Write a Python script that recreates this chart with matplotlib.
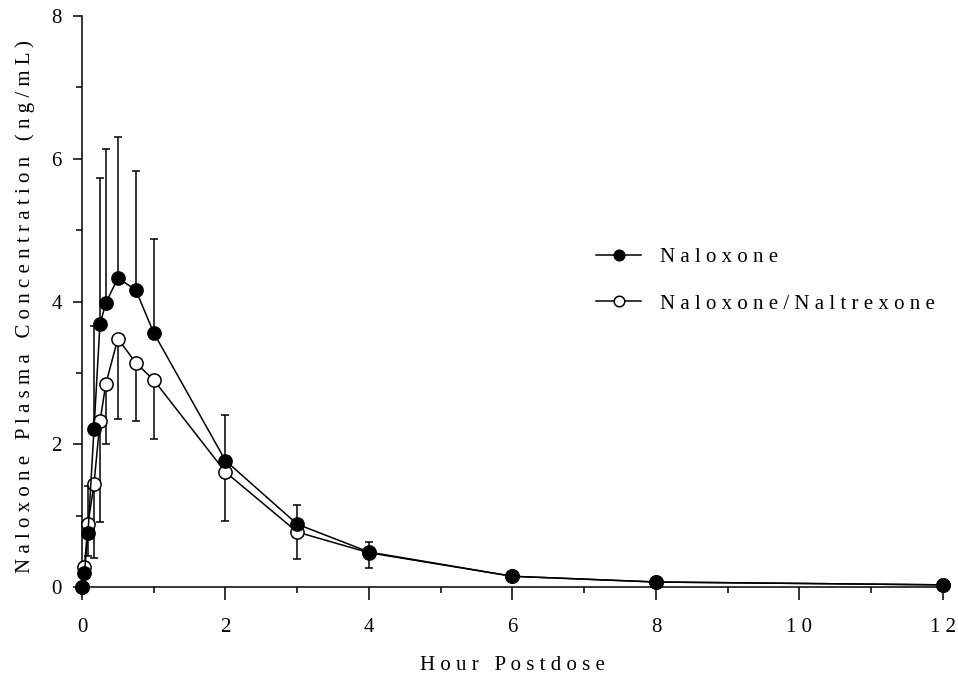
import numpy as np
import matplotlib
matplotlib.use("Agg")
import matplotlib.pyplot as plt
from matplotlib.ticker import MultipleLocator, FuncFormatter

plt.rcParams["font.family"] = ["Liberation Serif", "DejaVu Serif"]

# ── Data ───────────────────────────────────────────────────────
hours = [0, 0.033, 0.083, 0.167, 0.25, 0.333, 0.5, 0.75, 1, 2, 3, 4, 6, 8, 12]

naloxone_mean = [0, 0.19, 0.75, 2.21, 3.68, 3.98, 4.33, 4.16, 3.56, 1.77, 0.88, 0.49, 0.15, 0.07, 0.03]
naloxone_sd_up = [0, 0.10, 0.67, 1.44, 2.05, 2.15, 1.98, 1.67, 1.32, 0.64, 0.27, 0.14, 0, 0, 0]

combo_mean = [0, 0.28, 0.88, 1.44, 2.32, 2.85, 3.48, 3.14, 2.90, 1.61, 0.77, 0.48, 0.15, 0.07, 0.03]
combo_sd_down = [0, 0.10, 0.45, 1.04, 1.41, 0.85, 1.13, 0.82, 0.83, 0.68, 0.38, 0.22, 0, 0, 0]

x_ticks = [0, 2, 4, 6, 8, 10, 12]
y_ticks = [0, 2, 4, 6, 8]


def spaced(s):
    # the original uses wide letter spacing
    return " ".join(s)


t = np.array(hours)
m1 = np.array(naloxone_mean)
e1 = np.array(naloxone_sd_up)
m2 = np.array(combo_mean)
e2 = np.array(combo_sd_down)

fs = 15
lw = 1.1

fig = plt.figure(figsize=(9.58, 6.82), dpi=100)
ax = fig.add_axes([0.0856, 0.1393, 0.8987, 0.8372])

# error bars: upper for Naloxone, lower for Naloxone/Naltrexone
k1 = e1 > 0
ax.vlines(t[k1], m1[k1], m1[k1] + e1[k1], color="black", lw=lw, zorder=2)
ax.plot(t[k1], m1[k1] + e1[k1], ls="none", marker="_", ms=5.5, mew=lw, color="black", zorder=2)
k2 = e2 > 0
ax.vlines(t[k2], m2[k2] - e2[k2], m2[k2], color="black", lw=lw, zorder=2)
ax.plot(t[k2], m2[k2] - e2[k2], ls="none", marker="_", ms=5.5, mew=lw, color="black", zorder=2)

ax.plot(t, m2, color="black", lw=lw, marker="o", ms=9.5, mfc="white", mec="black",
        mew=lw, clip_on=False, zorder=4, label=spaced("Naloxone/Naltrexone"))
ax.plot(t, m1, color="black", lw=lw, marker="o", ms=9.5, mfc="black", mec="black",
        mew=lw, clip_on=False, zorder=5, label=spaced("Naloxone"))

ax.set_xlim(0, 12)
ax.set_ylim(0, 8)
ax.set_xticks(x_ticks)
ax.set_yticks(y_ticks)
ax.xaxis.set_minor_locator(MultipleLocator(1))
ax.yaxis.set_minor_locator(MultipleLocator(1))
ax.xaxis.set_major_formatter(FuncFormatter(lambda v, _: spaced(str(int(v)))))

for side in ["top", "right"]:
    ax.spines[side].set_visible(False)
for side in ["left", "bottom"]:
    ax.spines[side].set_linewidth(lw)

ax.tick_params(axis="x", which="major", direction="out", length=9, width=lw, labelsize=fs, pad=13)
ax.tick_params(axis="y", which="major", direction="out", length=6.5, width=lw, labelsize=fs, pad=8)
ax.tick_params(which="minor", direction="out", length=4, width=lw)

ax.set_xlabel(spaced("Hour Postdose"), fontsize=fs, labelpad=14)
ax.set_ylabel(spaced("Naloxone Plasma Concentration (ng/mL)"), fontsize=fs, labelpad=12)
ax.yaxis.label.set_y(0.491)

handles, labels = ax.get_legend_handles_labels()
ax.legend(handles[::-1], labels[::-1], frameon=False, loc="center left",
          bbox_to_anchor=(0.5755, 0.537), fontsize=fs, handlelength=2.15,
          handletextpad=0.9, labelspacing=1.3, markerscale=0.8)

fig.savefig("out.png", dpi=100)
